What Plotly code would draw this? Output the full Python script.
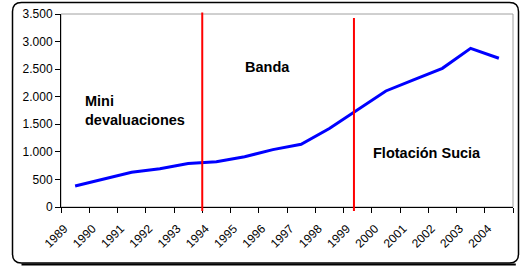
import plotly.graph_objects as go

years = ["1989", "1990", "1991", "1992", "1993", "1994", "1995", "1996",
         "1997", "1998", "1999", "2000", "2001", "2002", "2003", "2004"]
values = [380, 500, 630, 695, 790, 820, 912, 1040,
          1137, 1424, 1765, 2104, 2310, 2515, 2878, 2697]
y_tick_vals = [0, 500, 1000, 1500, 2000, 2500, 3000, 3500]
y_tick_text = ["0", "500", "1.000", "1.500", "2.000", "2.500", "3.000", "3.500"]
regime_breaks = [4.5, 9.87]
regime_labels = ["Mini<br>devaluaciones", "Banda", "Flotación Sucia"]

FONT = "Liberation Sans, Arial, sans-serif"

# plot area in px
L, R, T, B = 61, 513, 14, 207
W, H = R - L, B - T


def px_x(p):
    return (p - L) / W


def px_y(p):
    return (B - p) / H


fig = go.Figure()
fig.add_trace(go.Scatter(x=years, y=values, mode="lines",
                         line=dict(color="#0000FF", width=3), showlegend=False,
                         hoverinfo="skip"))

shapes = []
# plot area grey border
shapes.append(dict(type="rect", xref="paper", yref="paper", x0=0, x1=1, y0=0, y1=1,
                   line=dict(color="#A0A0A0", width=1), layer="below"))
# regime lines
tops = [12.5, 18]
for xb, tp in zip(regime_breaks, tops):
    shapes.append(dict(type="line", xref="x", yref="paper", x0=xb, x1=xb,
                       y0=px_y(211), y1=px_y(tp), line=dict(color="#FF0000", width=2)))

# outer rounded border
x0, x1, y0, y1 = px_x(12.5), px_x(518.5), px_y(263), px_y(2.5)
rx, ry = 9 / W, 9 / H
path = (f"M {x0+rx},{y1} L {x1-rx},{y1} Q {x1},{y1} {x1},{y1-ry} "
        f"L {x1},{y0+ry} Q {x1},{y0} {x1-rx},{y0} L {x0+rx},{y0} "
        f"Q {x0},{y0} {x0},{y0+ry} L {x0},{y1-ry} Q {x0},{y1} {x0+rx},{y1} Z")
shapes.append(dict(type="path", xref="paper", yref="paper", path=path,
                   line=dict(color="black", width=1.5)))
# shadow on bottom
shapes.append(dict(type="line", xref="paper", yref="paper", x0=x0 + rx, x1=x1 - rx * 0.3,
                   y0=px_y(264.5), y1=px_y(264.5), line=dict(color="black", width=2)))

annotations = [
    dict(text=regime_labels[0], xref="paper", yref="paper", x=px_x(83), y=px_y(110.5),
         xanchor="left", yanchor="middle", align="left", showarrow=False,
         font=dict(family=FONT, size=14.5, color="black"), ),
    dict(text=regime_labels[1], xref="paper", yref="paper", x=px_x(267), y=px_y(67),
         xanchor="center", yanchor="middle", showarrow=False,
         font=dict(family=FONT, size=14.5, color="black")),
    dict(text=regime_labels[2], xref="paper", yref="paper", x=px_x(427), y=px_y(153),
         xanchor="center", yanchor="middle", showarrow=False,
         font=dict(family=FONT, size=14.5, color="black")),
]
for a in annotations:
    a["text"] = "<b>" + a["text"].replace("<br>", "</b><br><b>") + "</b>"

fig.update_layout(
    width=520, height=267,
    margin=dict(l=L, r=520 - R, t=T, b=267 - B, autoexpand=False),
    paper_bgcolor="white", plot_bgcolor="white",
    font=dict(family=FONT, size=12, color="black"),
    shapes=shapes, annotations=annotations,
    xaxis=dict(type="category", range=[-0.5, 15.5], tickson="boundaries",
               ticks="outside", ticklen=5, tickcolor="black",
               showline=True, linecolor="black", linewidth=1,
               showgrid=False, tickangle=-45, tickfont=dict(size=12),
               ticklabelshift=-11, ticklabelstandoff=9,
               zeroline=False, automargin=False),
    yaxis=dict(range=[0, 3500], tickvals=y_tick_vals, ticktext=y_tick_text,
               ticks="outside", ticklen=5, tickcolor="black",
               showline=True, linecolor="black", linewidth=1,
               showgrid=False, zeroline=False, tickfont=dict(size=12),
               automargin=False),
)

fig.write_html("out.html", config={"displayModeBar": False},
               post_script="document.body.style.margin='0';document.body.style.padding='0';")
